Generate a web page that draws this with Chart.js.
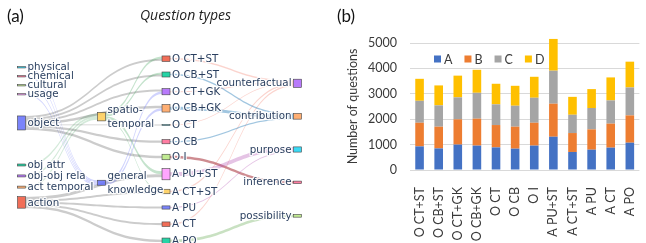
<!DOCTYPE html>
<html><head><meta charset="utf-8">
<script src="https://cdn.jsdelivr.net/npm/chart.js@4"></script>
<style>
html,body{margin:0;padding:0;background:#fff;}
body{width:646px;height:243px;overflow:hidden;position:relative;}
#pa{position:absolute;left:0;top:0;width:320px;height:243px;}
#pb{position:absolute;left:320px;top:0;width:334px;height:243px;}
</style></head><body>
<canvas id="pa" width="320" height="243"></canvas>
<canvas id="pb" width="334" height="243"></canvas>
<script>
// ---------- Panel (b) data ----------
const categories = ['O CT+ST','O CB+ST','O CT+GK','O CB+GK','O CT','O CB','O I','A PU+ST','A CT+ST','A PU','A CT','A PO'];
const seriesA = [930, 850, 1000, 960, 890, 840, 960, 1310, 710, 800, 880, 1075];
const seriesB = [930, 855, 995, 1060, 880, 865, 900, 1300, 745, 800, 945, 1075];
const seriesC = [865, 840, 865, 1020, 815, 825, 985, 1300, 720, 840, 915, 1100];
const seriesD = [865, 785, 855, 905, 810, 785, 825, 1250, 705, 745, 905, 1015];
const seriesNames = ['A','B','C','D'];
const yTicks = [0,1000,2000,3000,4000,5000];

// ---------- Panel (a) data (Sankey) ----------
const sankeyNodes = ['object','action','obj attr','obj-obj rela','act temporal','physical','chemical','cultural','usage',
  'spatio-\ntemporal','general\nknowledge',
  'O CT+ST','O CB+ST','O CT+GK','O CB+GK','O CT','O CB','O I','A PU+ST','A CT+ST','A PU','A CT','A PO',
  'counterfactual','contribution','purpose','inference','possibility'];
const nodeValue = [140,115,20,20,20,13,13,13,13,85,50,55,50,62,75,8,42,55,112,45,32,45,55,82,57,52,24,27];
const linkSource = [5,6,7,8, 2,3,4, 0,0,0,0,0,0,0, 1,1,1,1,1, 9,9,9,9, 10,10, 11,13,15,19,21, 12,14,16, 17, 18,20, 22];
const linkTarget = [10,10,10,10, 9,9,9, 11,12,13,14,15,16,17, 18,19,20,21,22, 11,12,18,19, 13,14, 23,23,23,23,23, 24,24,24, 26, 25,25, 27];
const linkValue  = [13,13,13,13, 20,20,20, 20,20,20,25,8,22,25, 30,20,20,22,23, 22,18,30,14, 25,25, 15,10,8,15,15, 15,30,12, 24, 40,12, 27];
// layout of the sankey (like plotly node.x / node.y)
const nodeColumn = [0,0,0,0,0,0,0,0,0,1,1,2,2,2,2,2,2,2,2,2,2,2,2,3,3,3,3,3];
const columnX = [0.0547, 0.3047, 0.5063, 0.9172];
const nodeY = [0.506,0.833,0.679,0.724,0.770,0.277,0.314,0.351,0.388,0.480,0.752,
  0.2416,0.3066,0.3774,0.4457,0.5144,0.5831,0.6461,0.7169,0.7881,0.8539,0.9226,0.9909,
  0.3428,0.4786,0.6152,0.7502,0.8881];

// ---------- styles ----------
const plotlyColors = ['#636efa','#EF553B','#00cc96','#ab63fa','#FFA15A','#19d3f3','#FF6692','#B6E880','#FF97FF','#FECB52'];
const targetLinkColors = {23:'rgba(239,85,59,0.25)',24:'rgba(31,119,180,0.42)',25:'rgba(175,70,175,0.32)',26:'rgba(165,45,55,0.55)',27:'rgba(90,165,70,0.33)'};
function linkColor(s,t){
  if (s<=1) return 'rgba(0,0,0,0.2)';
  if (s===10||t===10) return 'rgba(99,110,250,0.3)';
  if (t===9) return 'rgba(40,150,70,0.2)';
  if (s===9) return 'rgba(40,150,70,0.27)';
  return targetLinkColors[t] || 'rgba(0,0,0,0.2)';
}
function hexA(h,a){const n=parseInt(h.slice(1),16);return `rgba(${n>>16},${(n>>8)&255},${n&255},${a})`;}

const sankeyPlugin = {
  id:'sankey',
  beforeDatasetsDraw(chart){
    const ctx = chart.ctx, xs = chart.scales.x, ys = chart.scales.y;
    const ky = 0.1, nodeW = 8, n = sankeyNodes.length;
    const left = i => xs.getPixelForValue(columnX[nodeColumn[i]]);
    const cy = i => ys.getPixelForValue(nodeY[i]);
    const hh = i => Math.max(nodeValue[i]*ky, 0.8);
    const outs = Array.from({length:n},()=>[]), ins = Array.from({length:n},()=>[]);
    linkSource.forEach((s,k)=>{ outs[s].push(k); ins[linkTarget[k]].push(k); });
    const y0 = {}, y1 = {};
    for (let i=0;i<n;i++){
      outs[i].sort((a,b)=>cy(linkTarget[a])-cy(linkTarget[b]));
      ins[i].sort((a,b)=>cy(linkSource[a])-cy(linkSource[b]));
      let tot = outs[i].reduce((s,k)=>s+linkValue[k]*ky,0);
      let y = cy(i) - tot/2;
      outs[i].forEach(k=>{ y0[k]=y; y+=linkValue[k]*ky; });
      tot = ins[i].reduce((s,k)=>s+linkValue[k]*ky,0);
      y = cy(i) - tot/2;
      ins[i].forEach(k=>{ y1[k]=y; y+=linkValue[k]*ky; });
    }
    ctx.save();
    linkSource.forEach((s,k)=>{
      const t = linkTarget[k], w = linkValue[k]*ky;
      const xa = left(s)+nodeW, xb = left(t), xm = (xa+xb)/2;
      const a = y0[k], b = y1[k];
      ctx.beginPath();
      ctx.moveTo(xa,a);
      ctx.bezierCurveTo(xm,a,xm,b,xb,b);
      ctx.lineTo(xb,b+w);
      ctx.bezierCurveTo(xm,b+w,xm,a+w,xa,a+w);
      ctx.closePath();
      ctx.fillStyle = linkColor(s,t);
      ctx.fill();
    });
    // nodes
    for (let i=0;i<n;i++){
      const h = hh(i), x = left(i), y = cy(i)-h/2;
      ctx.fillStyle = hexA(plotlyColors[i%10],0.85);
      ctx.fillRect(x,y,nodeW,h);
      ctx.strokeStyle = '#444'; ctx.lineWidth = 0.6;
      ctx.strokeRect(x,y,nodeW,h);
    }
    // labels
    ctx.font = '10.3px "DejaVu Sans"';
    ctx.textBaseline = 'middle';
    ctx.lineJoin = 'round';
    for (let i=0;i<n;i++){
      const last = nodeColumn[i]===3;
      ctx.textAlign = last ? 'right' : 'left';
      const x = last ? left(i)-2 : left(i)+nodeW+2;
      const lines = sankeyNodes[i].split('\n');
      const lh = 14;
      lines.forEach((ln,j)=>{
        const y = cy(i) + (j-(lines.length-1)/2)*lh + 0.5;
        ctx.strokeStyle = 'rgba(255,255,255,0.9)'; ctx.lineWidth = 2.5;
        ctx.strokeText(ln,x,y);
        ctx.fillStyle = '#2a3f5f';
        ctx.fillText(ln,x,y);
      });
    }
    ctx.restore();
  },
  afterDraw(chart){
    const ctx = chart.ctx;
    ctx.save();
    ctx.fillStyle = '#111';
    ctx.textBaseline = 'alphabetic';
    ctx.font = '17px Lato';
    ctx.textAlign = 'left';
    ctx.fillText('(a)', 7, 22);
    ctx.font = 'italic 14px "Open Sans"';
    ctx.textAlign = 'center';
    ctx.fillStyle = '#222';
    ctx.fillText('Question types', 185.5, 20);
    ctx.restore();
  }
};

new Chart(document.getElementById('pa'), {
  type:'scatter',
  data:{datasets:[{data: sankeyNodes.map((_,i)=>({x:columnX[nodeColumn[i]], y:nodeY[i]})), pointRadius:0}]},
  options:{
    responsive:false, animation:false, events:[],
    layout:{padding:0},
    plugins:{legend:{display:false}, tooltip:{enabled:false}},
    scales:{
      x:{type:'linear', min:0, max:1, display:false},
      y:{type:'linear', min:0, max:1, reverse:true, display:false}
    }
  },
  plugins:[sankeyPlugin]
});

// ---------- Panel (b) ----------
const barColors = ['#4472C4','#ED7D31','#A5A5A5','#FFC000'];
const textColor = '#3a3a3a';
const fnt = {family:'Lato', size:12.5};
const insideLegend = {
  id:'insideLegend',
  afterDraw(chart){
    const ctx = chart.ctx, ca = chart.chartArea;
    ctx.save();
    ctx.font = '12.5px Lato';
    ctx.textBaseline = 'middle';
    let x = ca.left + 24; const y = ca.top + 16;
    chart.data.datasets.forEach(ds=>{
      ctx.fillStyle = ds.backgroundColor;
      ctx.fillRect(x, y-3.5, 7, 7);
      x += 10;
      ctx.fillStyle = textColor;
      ctx.fillText(ds.label, x, y+0.5);
      x += ctx.measureText(ds.label).width + 12;
    });
    ctx.fillStyle = '#111';
    ctx.font = '17px Lato';
    ctx.textBaseline = 'alphabetic';
    ctx.fillText('(b)', 17, 22);
    ctx.restore();
  }
};
const seriesValues = [seriesA, seriesB, seriesC, seriesD];
new Chart(document.getElementById('pb'), {
  type:'bar',
  data:{
    labels: categories,
    datasets: seriesNames.map((nm,i)=>({label:nm, data:seriesValues[i], backgroundColor:barColors[i], borderWidth:0,
      categoryPercentage:0.9, barPercentage:0.5, clip:false}))
  },
  options:{
    responsive:false, animation:false, events:[],
    layout:{padding:{left:0, right:4, top:43, bottom:0}},
    plugins:{legend:{display:false}, tooltip:{enabled:false}},
    scales:{
      x:{stacked:true, grid:{display:false}, border:{display:false},
         ticks:{minRotation:90, maxRotation:90, autoSkip:false, font:fnt, color:textColor, padding:9},
         afterFit(s){ s.height = 73; }},
      y:{stacked:true, min:0, max:5000,
         afterBuildTicks(s){ s.ticks = yTicks.map(v=>({value:v})); },
         ticks:{font:fnt, color:textColor, padding:13, callback:v=>String(v)},
         grid:{color:'#d9d9d9', drawTicks:false, lineWidth:1},
         border:{display:false},
         title:{display:true, text:'Number of questions', font:fnt, color:textColor, padding:{top:25,bottom:0}},
         afterFit(s){ s.width = 90; }}
    }
  },
  plugins:[insideLegend]
});
</script></body></html>
